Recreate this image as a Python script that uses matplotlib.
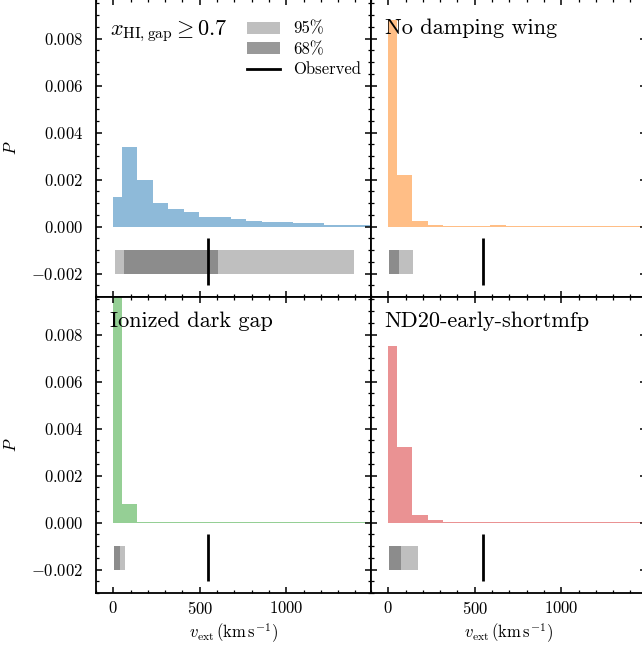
import matplotlib
matplotlib.use("Agg")
import matplotlib.pyplot as plt
from matplotlib.patches import Patch
from matplotlib.lines import Line2D
from matplotlib.ticker import MultipleLocator, FuncFormatter

plt.rcParams.update({
    "font.family": "serif",
    "font.serif": ["cmr10"],
    "mathtext.fontset": "cm",
    "axes.formatter.use_mathtext": True,
    "font.size": 12,
    "axes.linewidth": 1.3,
    "xtick.direction": "in",
    "ytick.direction": "in",
    "xtick.top": True,
    "ytick.right": True,
    "xtick.major.size": 4.5,
    "ytick.major.size": 4.5,
    "xtick.minor.size": 2.5,
    "ytick.minor.size": 2.5,
    "xtick.major.width": 1.1,
    "ytick.major.width": 1.1,
    "xtick.minor.width": 0.9,
    "ytick.minor.width": 0.9,
    "xtick.labelsize": 12,
    "ytick.labelsize": 12,
    "ytick.major.pad": 9,
    "xtick.major.pad": 5,
})

# velocity bin edges (km/s)
bin_edges = [0, 48, 138, 228, 318, 408, 498, 588, 678, 768, 858, 948,
             1038, 1128, 1218, 1308, 1398, 1488]

# probability density per bin for each model
p_xhi = [0.00127, 0.00337, 0.00200, 0.00101, 0.00076, 0.00060, 0.00041,
         0.00039, 0.00031, 0.00022, 0.00021, 0.00020, 0.00015, 0.00013,
         0.00008, 0.00007, 0.00006]
p_nodw = [0.0088, 0.0022, 0.00024, 0.00006, 0.00001, 0.00001, 0.00001,
          0.00005, 0.00001, 0.00001, 0.00001, 0.00001, 0.00001, 0.00001,
          0.00001, 0.00001, 0.00001]
p_ion = [0.0103, 0.00077, 0.00004, 0.00001, 0.00001, 0.00001, 0.00001,
         0.00001, 0.00001, 0.00001, 0.00001, 0.00001, 0.00001, 0.00001,
         0.00001, 0.00001, 0.00001]
p_nd20 = [0.0075, 0.00323, 0.00031, 0.00012, 0.00003, 0.00002, 0.00002,
          0.00002, 0.00002, 0.00002, 0.00002, 0.00002, 0.00002, 0.00002,
          0.00002, 0.00002, 0.00002]

# credible intervals (km/s): 95% and 68%
ci95 = [(11, 1392), (2, 142), (2, 67), (2, 169)]
ci68 = [(60, 608), (2, 60), (2, 40), (2, 75)]
v_observed = 548

model_names = [r"$x_{\rm HI,gap} \geq 0.7$", "No damping wing",
               "Ionized dark gap", "ND20-early-shortmfp"]
model_probs = [p_xhi, p_nodw, p_ion, p_nd20]
model_colors = ["C0", "C1", "C2", "C3"]

fig = plt.figure(figsize=(6.42, 6.47), dpi=100)
W, H = 642.0, 647.0
ax_w = 275.0 / W
lefts = [96.0 / W, 371.0 / W]
# rows: (bottom px from top, top px from top, upper y limit)
rows = [(297.0, -1.0, 0.00969), (593.0, 297.0, 0.0096)]

axes = []
for r in range(2):
    bot_px, top_px, ytop = rows[r]
    for c in range(2):
        ax = fig.add_axes([lefts[c], (H - bot_px) / H, ax_w,
                           (bot_px - top_px) / H])
        ax.set_ylim(-0.003, ytop)
        axes.append(ax)

light = "#bfbfbf"
dark = "#8c8c8c"

for i, ax in enumerate(axes):
    ax.stairs(model_probs[i], bin_edges, fill=True, color=model_colors[i],
              alpha=0.5, lw=0)
    lo, hi = ci95[i]
    ax.fill_between([lo, hi], -0.002, -0.001, color=light, lw=0)
    lo, hi = ci68[i]
    ax.fill_between([lo, hi], -0.002, -0.001, color=dark, lw=0)
    ax.vlines(v_observed, -0.0025, -0.0005, color="k", lw=2)

    ax.set_xlim(-100, 1490)
    ax.xaxis.set_major_locator(MultipleLocator(500))
    ax.xaxis.set_minor_locator(MultipleLocator(100))
    ax.yaxis.set_major_locator(MultipleLocator(0.002))
    ax.yaxis.set_minor_locator(MultipleLocator(0.0005))
    ax.xaxis.set_major_formatter(FuncFormatter(lambda v, p: r"$%d$" % v))
    ax.yaxis.set_major_formatter(FuncFormatter(lambda v, p: r"$%.3f$" % v))
    ax.tick_params(which="both", top=True, right=True)

    ax.text(0.05, 0.95 if i >= 2 else 0.935, model_names[i],
            transform=ax.transAxes, ha="left", va="top", fontsize=16)

    if i % 2 == 1:
        ax.tick_params(labelleft=False)
    else:
        ax.set_ylabel(r"$P$", fontsize=12, labelpad=9)
    if i < 2:
        ax.tick_params(labelbottom=False)
    else:
        ax.set_xlabel(r"$v_{\rm ext}\,({\rm km\,s^{-1}})$", fontsize=12,
                      labelpad=3)

handles = [Patch(color=light, lw=0, label="95%"),
           Patch(color="#999999", lw=0, label="68%"),
           Line2D([], [], color="k", lw=2, label="Observed")]
axes[0].legend(handles=handles, loc="upper right", frameon=False,
               fontsize=12, labelspacing=0.3, bbox_to_anchor=(1.02, 0.975))

fig.savefig("out.png", dpi=100)
